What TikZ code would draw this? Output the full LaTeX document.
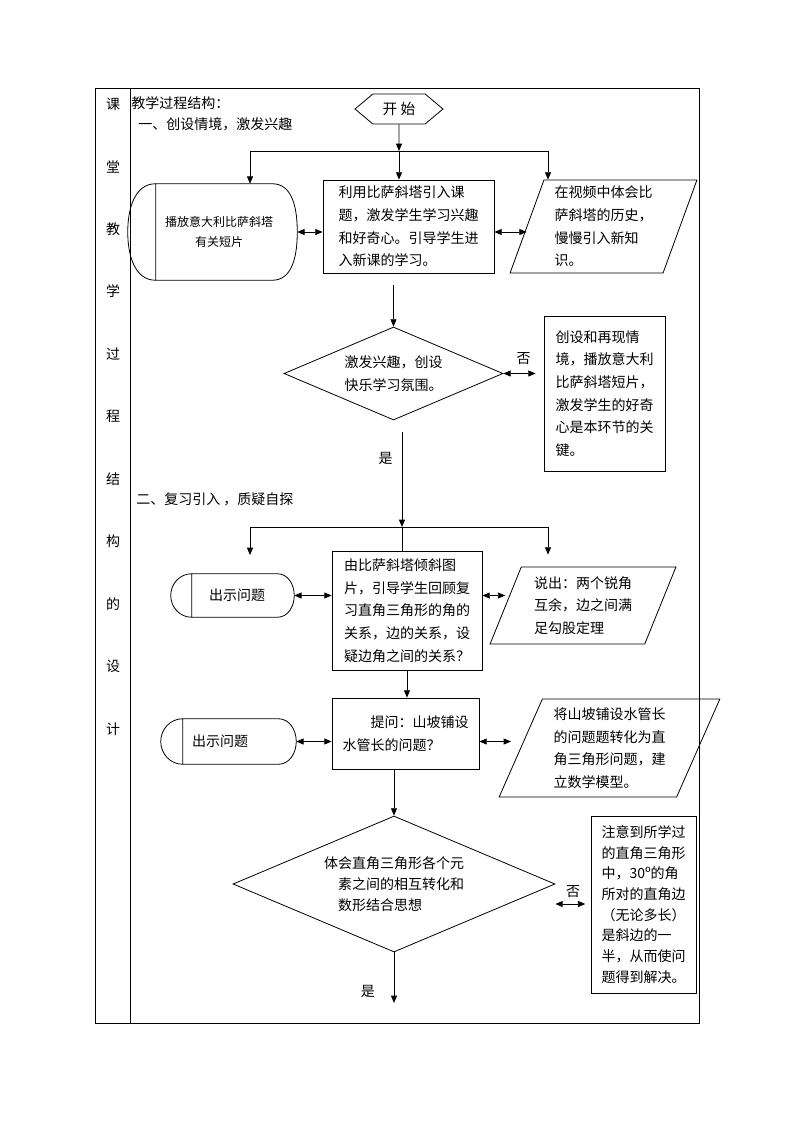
\documentclass[tikz,border=0pt]{standalone}
\usepackage{fontspec}
\setmainfont{Noto Sans CJK SC}
\usepackage{tikz}
\usetikzlibrary{shapes.geometric, shapes.symbols, arrows.meta, positioning, calc}
\tikzset{
  font=\fontsize{10.5pt}{17pt}\selectfont,
  thinline/.style={draw=black, line width=0.6pt},
  flowline/.style={thinline, -{Triangle[length=5.5pt, width=4.5pt]}},
  bidirline/.style={thinline, {Triangle[length=5.5pt, width=4.5pt]}-{Triangle[length=5.5pt, width=4.5pt]}},
  startblock/.style={
    signal, signal to=west and east, signal pointer angle=80,
    draw, line width=0.6pt, inner sep=0pt,
    minimum width=66pt, minimum height=22.5pt,
    font=\fontsize{11pt}{13pt}\selectfont
  },
  leadblock/.style={rectangle, draw, line width=0.6pt, inner sep=0pt, align=left},
  noteblock/.style={leadblock},
  decisionblock/.style={diamond, aspect=2.35, draw, line width=0.6pt, inner sep=0pt, align=center},
  answerblock/.style={
    trapezium, trapezium stretches=true,
    draw, line width=0.6pt, inner sep=0pt, align=left
  },
  showblock/.style={rectangle, inner sep=0pt, align=center},
  sidelabel/.style={inner sep=0pt},
  headline/.style={anchor=west, inner sep=0pt},
  yeslabel/.style={inner sep=0pt}
}
% outline of a "show" block: node, left arc depth, right arc depth
\newcommand{\showoutline}[3]{%
  \draw[thinline]
    ([xshift=#2]#1.north west) -- ([xshift=-#3]#1.north east)
    to[out=0, in=90] (#1.east)
    to[out=-90, in=0] ([xshift=-#3]#1.south east)
    -- ([xshift=#2]#1.south west)
    to[out=180, in=-90] (#1.west)
    to[out=90, in=180] ([xshift=#2]#1.north west)
    ([xshift=#2]#1.north west) -- ([xshift=#2]#1.south west);
}

\begin{document}
\begin{tikzpicture}[x=0.75pt, y=-0.75pt]

  \path[fill=white] (0,0) rectangle (794,1123);
  \useasboundingbox (0,0) rectangle (794,1123);

  % Table frame
  \draw[thinline] (95,88) rectangle (699,1023);
  \draw[thinline] (130,88) -- (130,1023);

  % Side column
  \foreach \ch [count=\i from 0] in {课,堂,教,学,过,程,结,构,的,设,计}
    \node[sidelabel] (side\i) at (113, {104+62.5*\i}) {\ch};

  \node[headline] (title) at (131,103) {教学过程结构：};
  \node[headline] (part1) at (138,124) {一、创设情境，激发兴趣};
  \node[headline] (part2) at (136,499) {二、复习引入 ，质疑自探};

  % Start
  \node[startblock] (start) at (399,109) {开\ 始};

  \coordinate (fork1) at (399,151);
  \coordinate (fork1l) at (250,151);
  \coordinate (fork1r) at (548,151);

  % Part one
  \node[showblock, minimum width=126.75pt, minimum height=72pt,
        font=\fontsize{9pt}{15pt}\selectfont] (clip1) at (212.5,232) {
    \hspace*{10pt}播放意大利比萨斜塔\\\hspace*{10pt}有关短片
  };
  \showoutline{clip1}{21pt}{18.75pt}

  \node[leadblock, minimum width=128.25pt, minimum height=69.75pt] (lead1) at (408.5,226.5) {
    利用比萨斜塔引入课\\题，激发学生学习兴趣\\和好奇心。引导学生进\\入新课的学习。
  };

  \node[answerblock, trapezium left angle=71, trapezium right angle=109,
        minimum width=140.25pt, minimum height=69.75pt] (para1) at (603.5,226.5) {
    在视频中体会比\\萨斜塔的历史，\\慢慢引入新知\\识。
  };

  \node[decisionblock, minimum width=164.25pt, minimum height=69.75pt] (dec1) at (393.5,373.5) {
    激发兴趣，创设\\快乐学习氛围。
  };

  \node[noteblock, minimum width=90.75pt, minimum height=116.25pt] (note1) at (604.5,393.5) {
    创设和再现情\\境，播放意大利\\比萨斜塔短片，\\激发学生的好奇\\心是本环节的关\\键。
  };

  \coordinate (fork2) at (402,527);
  \coordinate (fork2l) at (250,527);
  \coordinate (fork2r) at (548,527);

  % Part two
  \node[showblock, minimum width=92.25pt, minimum height=32.25pt] (clip2) at (232.5,595.5) {\hspace*{6.75pt}出示问题};
  \showoutline{clip2}{15.75pt}{12.75pt}

  \node[leadblock, minimum width=112.5pt, minimum height=89.25pt] (lead2) at (407,610.5) {
    由比萨斜塔倾斜图\\片，引导学生回顾复\\习直角三角形的角的\\关系，边的关系，设\\疑边角之间的关系？
  };

  \node[answerblock, trapezium left angle=67, trapezium right angle=113,
        minimum width=139.5pt, minimum height=57.75pt] (para2) at (583,605.5) {
    说出：两个锐角\\互余，边之间满\\足勾股定理
  };

  \node[leadblock, minimum width=110.25pt, minimum height=53.25pt] (lead3) at (405.5,733.5) {
    \hspace*{2em}提问：山坡铺设\\水管长的问题？
  };

  \node[showblock, minimum width=101.25pt, minimum height=33.75pt] (clip3) at (228.5,741.5) {\hspace*{-12.75pt}出示问题};
  \showoutline{clip3}{16.5pt}{13.5pt}

  \node[answerblock, trapezium left angle=66, trapezium right angle=114,
        minimum width=165.75pt, minimum height=73.5pt] (para3) at (609.5,748) {
    将山坡铺设水管长\\的问题题转化为直\\角三角形问题，建\\立数学模型。
  };

  \node[decisionblock, align=left, minimum width=241.5pt, minimum height=102pt,
        font=\fontsize{10.5pt}{16pt}\selectfont] (dec2) at (394,884) {
    体会直角三角形各个元\\\hspace*{1em}素之间的相互转化和\\\hspace*{1em}数形结合思想
  };

  \node[noteblock, minimum width=78.75pt, minimum height=132.75pt,
        font=\fontsize{10.5pt}{15.5pt}\selectfont] (note2) at (643.5,904.5) {
    注意到所学过\\的直角三角形\\中，30º的角\\所对的直角边\\（无论多长）\\是斜边的一\\半，从而使问\\题得到解决。
  };

  \coordinate (finish) at (394,1003);
  \coordinate (no2pt) at ([yshift=-15pt]dec2.east);

  % Connectors
  \draw[flowline] (start) -- (fork1);
  \draw[thinline] (fork1l) -- (fork1r);
  \draw[flowline] (fork1l) -- (fork1l |- clip1.north);
  \draw[flowline] (fork1) -- (fork1 |- lead1.north);
  \draw[flowline] (fork1r) -- (fork1r |- para1.north);
  \draw[bidirline] (clip1.east) -- (clip1.east -| lead1.west);
  \draw[bidirline] (clip1.east -| lead1.east) -- (clip1.east -| para1.west);
  \draw[flowline, shorten <=9pt] (dec1.north |- lead1.south) -- (dec1.north);
  \draw[bidirline, shorten >=6pt] (dec1.east) -- (dec1.east -| note1.west)
    node[midway, above=6pt, yeslabel] (no1) {否};
  \draw[flowline, shorten <=9pt] (fork2 |- dec1.south) -- (fork2)
    node[pos=0.36, left=6.75pt, yeslabel] (yes1) {是};

  \draw[thinline] (fork2l) -- (fork2r);
  \draw[flowline, shorten >=14pt] (fork2l) -- (fork2l |- clip2.north);
  \draw[thinline] (fork2) -- (fork2 |- lead2.north);
  \draw[flowline, shorten >=9pt] (fork2r) -- (fork2r |- para2.north);
  \draw[bidirline] (clip2.east) -- (clip2.east -| lead2.west);
  \draw[bidirline] (clip2.east -| lead2.east) -- (clip2.east -| para2.west);
  \draw[flowline] (lead2.south) -- (lead2.south |- lead3.north);
  \draw[bidirline] (clip3.east) -- (clip3.east -| lead3.west);
  \draw[bidirline, shorten >=7pt] (clip3.east -| lead3.east) -- (clip3.east -| para3.west);
  \draw[flowline] (dec2.north |- lead3.south) -- (dec2.north);
  \draw[bidirline, shorten >=4pt] (no2pt) -- (no2pt -| note2.west)
    node[midway, above=4.5pt, yeslabel] (no2) {否};
  \draw[flowline] (dec2.south) -- (finish)
    node[pos=0.78, left=14pt, yeslabel] (yes2) {是};

\end{tikzpicture}
\end{document}
